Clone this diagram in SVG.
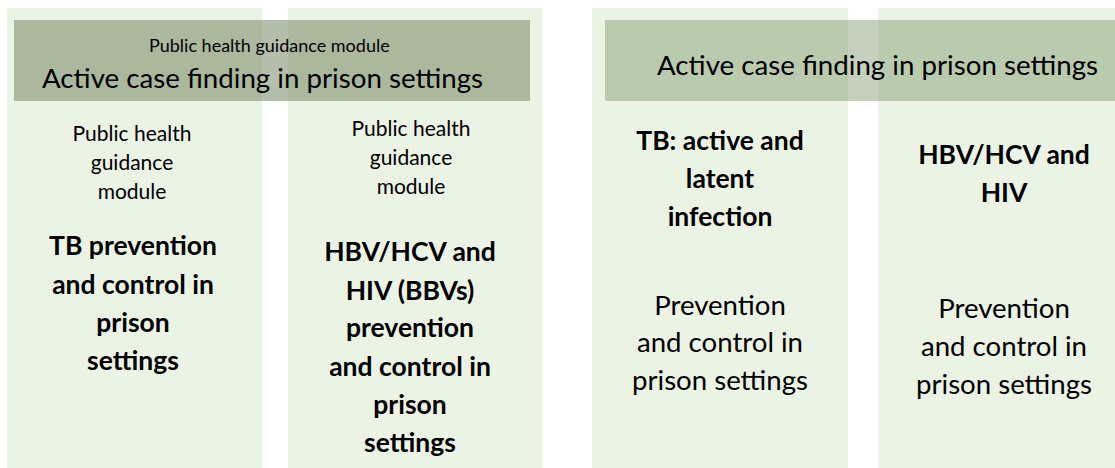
<svg xmlns="http://www.w3.org/2000/svg" width="1115" height="468" viewBox="0 0 1115 468">
<style>
.col{fill:#ebf3e5}
.banL{fill:#6b7d57;fill-opacity:0.5}
.banR{fill:#7f9a6a;fill-opacity:0.45}
text{font-family:Lato,"Open Sans","Liberation Sans",sans-serif;fill:#000;text-anchor:middle}
.sm{font-size:21px}
.b{font-size:26.5px;font-weight:bold}
.r{font-size:27.6px}
.ban{font-size:27.7px;text-anchor:start}
.tiny{font-size:18px;text-anchor:start}
</style>
<rect width="1115" height="468" fill="#fff"/>
<g id="col1">
<rect class="col" x="7" y="8" width="255" height="460"/>
<text class="sm" x="132" y="141">Public health</text>
<text class="sm" x="132" y="170">guidance</text>
<text class="sm" x="132" y="199">module</text>
<text class="b" x="133" y="255">TB prevention</text>
<text class="b" x="133" y="294">and control in</text>
<text class="b" x="133" y="332">prison</text>
<text class="b" x="133" y="370">settings</text>
</g>
<g id="col2">
<rect class="col" x="288" y="8" width="254" height="460"/>
<text class="sm" x="411" y="136">Public health</text>
<text class="sm" x="411" y="165">guidance</text>
<text class="sm" x="411" y="194">module</text>
<text class="b" x="410" y="261">HBV/HCV and</text>
<text class="b" x="410" y="300">HIV (BBVs)</text>
<text class="b" x="410" y="337">prevention</text>
<text class="b" x="410" y="376">and control in</text>
<text class="b" x="410" y="414">prison</text>
<text class="b" x="410" y="452">settings</text>
</g>
<g id="col3">
<rect class="col" x="592" y="8" width="256" height="460"/>
<text class="b" x="720" y="150">TB: active and</text>
<text class="b" x="720" y="188">latent</text>
<text class="b" x="720" y="226">infection</text>
<text class="r" x="720" y="315">Prevention</text>
<text class="r" x="720" y="352">and control in</text>
<text class="r" x="720" y="390">prison settings</text>
</g>
<g id="col4">
<rect class="col" x="878" y="8" width="237" height="460"/>
<text class="b" x="1004" y="164">HBV/HCV and</text>
<text class="b" x="1004" y="202">HIV</text>
<text class="r" x="1004" y="318">Prevention</text>
<text class="r" x="1004" y="356">and control in</text>
<text class="r" x="1004" y="394">prison settings</text>
</g>
<g id="bannerLeft">
<rect class="banL" x="14" y="20" width="516" height="81"/>
<text class="tiny" x="149" y="52">Public health guidance module</text>
<text class="ban" x="42" y="88">Active case finding in prison settings</text>
</g>
<g id="bannerRight">
<rect class="banR" x="605" y="20" width="510" height="81"/>
<text class="ban" x="657" y="75">Active case finding in prison settings</text>
</g>
<g id="connectors"/>
</svg>
